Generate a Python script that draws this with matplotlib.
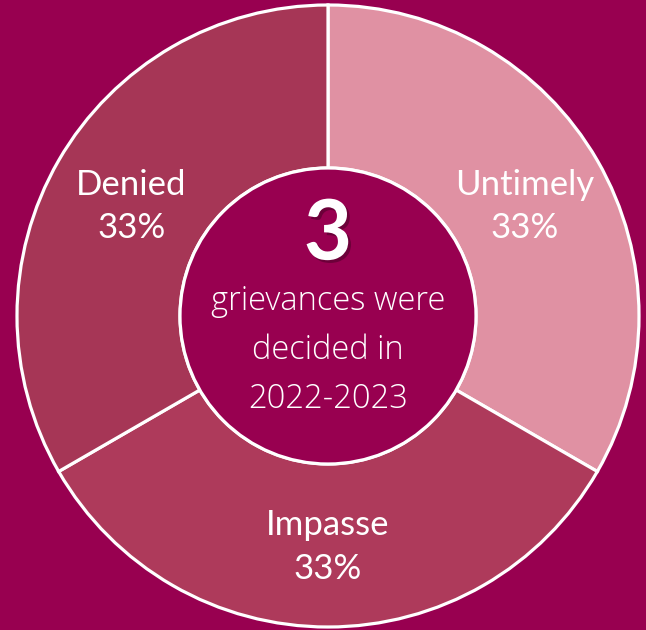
import matplotlib
matplotlib.use("Agg")
import matplotlib.pyplot as plt
import matplotlib.patheffects as pe
from matplotlib.patches import Circle

categories = ["Untimely", "Impasse", "Denied"]
counts = [1, 1, 1]
total_label = "3"
center_text = "grievances were\ndecided in\n2022-2023"

bg = "#980050"
colors = ["#E091A3", "#AE3A5B", "#A63656"]

fig = plt.figure(figsize=(6.46, 6.30), dpi=100, facecolor=bg)
ax = fig.add_axes([0, 0, 1, 1])
ax.set_facecolor(bg)

total = sum(counts)
labels = [f"{c}\n{round(100 * n / total)}%" for c, n in zip(categories, counts)]

wedges, texts = ax.pie(counts, colors=colors, startangle=90, counterclock=False,
                       radius=311, labels=labels, labeldistance=0.73,
                       wedgeprops=dict(width=163, edgecolor="white", linewidth=2.3),
                       textprops=dict(color="white", fontsize=25, family="Lato",
                                      linespacing=1.45))
for t in texts:
    t.set_ha("center")
    t.set_va("center")
    x, y = t.get_position()
    t.set_position((x, y - 4))

ax.add_patch(Circle((0, 0), 148, facecolor=bg, edgecolor="white", linewidth=2.3, zorder=3))

ax.text(0, 80, total_label, ha="center", va="center", color="white", fontsize=60,
        fontweight="bold", family="Lato", zorder=4,
        path_effects=[pe.withSimplePatchShadow(offset=(2, -2), shadow_rgbFace="#50002a", alpha=0.6)])
ax.text(0, -34, center_text, ha="center", va="center", color="white", fontsize=23.5,
        fontweight=300, family="Open Sans", linespacing=1.6, zorder=4)

ax.set_xlim(-328, 318)
ax.set_ylim(-314, 316)
ax.set_aspect("equal")
ax.axis("off")

fig.savefig("out.png", dpi=100, facecolor=bg)
